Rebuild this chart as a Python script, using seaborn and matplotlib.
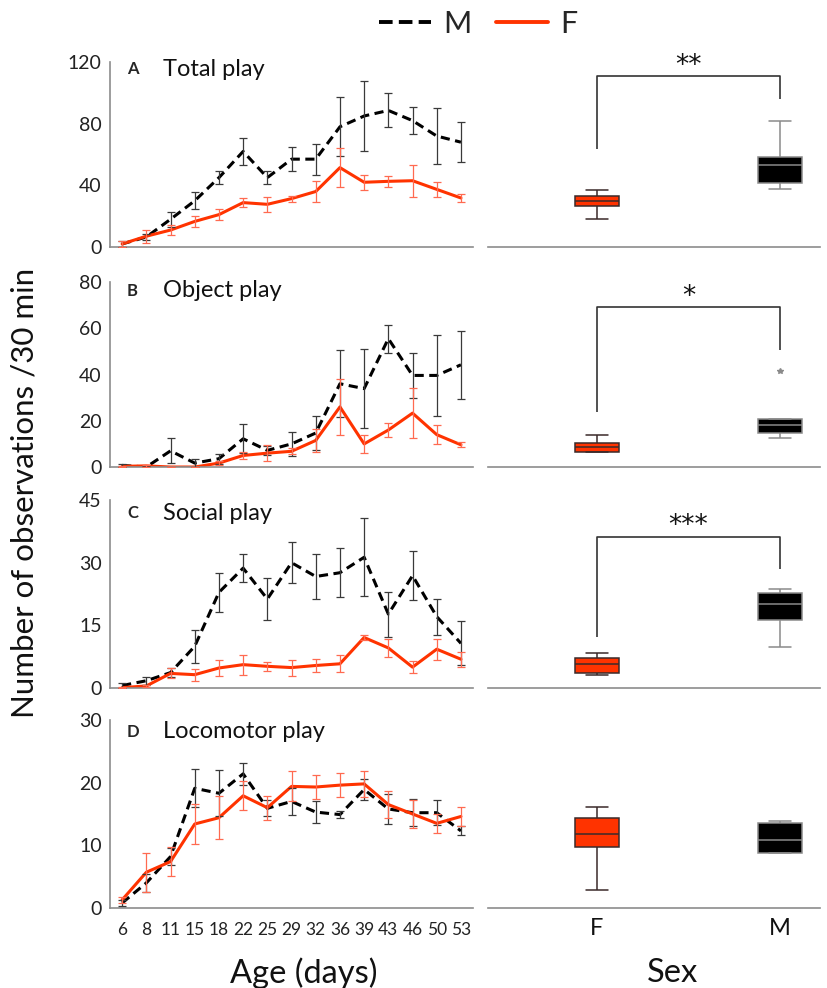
import numpy as np
import pandas as pd
import seaborn as sns
import matplotlib.pyplot as plt
from matplotlib.lines import Line2D

# ---------------- data ----------------
ages = [6, 8, 11, 15, 18, 22, 25, 29, 32, 36, 39, 43, 46, 50, 53]

total_M = [2, 6.5, 18, 30, 45, 62, 45, 57, 57, 78, 85, 88.6, 82, 72, 68]
total_M_err = [2, 2, 5, 5.5, 4, 9, 4, 8, 10, 19, 23, 11, 9, 18, 13]
total_F = [2, 7, 11, 16.6, 21, 28.8, 27.7, 31.4, 36, 51.5, 42, 42.6, 43, 37.4, 31.8]
total_F_err = [2, 4.3, 3.4, 3.5, 3.8, 3, 5, 2, 7, 12.5, 5, 3.6, 10.5, 5, 2.3]

object_M = [0.7, 0, 7, 1.7, 3.6, 12.2, 7.2, 10, 14.7, 36, 33.9, 55.5, 39.6, 39.6, 44.2]
object_M_err = [0.7, 0.3, 5.4, 1.6, 2.2, 6.3, 2, 5.3, 7.3, 14.4, 17, 6, 9.8, 17.6, 14.8]
object_F = [0.3, 0.5, 0, 0, 1.7, 5, 6, 6.8, 11.5, 26, 10, 16, 23.3, 14, 9.6]
object_F_err = [0.3, 0.5, 0, 0, 0.7, 1.5, 3.6, 1.3, 5, 12, 4, 2.9, 10.8, 4, 1.1]

social_M = [0.6, 1.75, 3.7, 10, 22.9, 28.7, 21.3, 30, 26.7, 27.6, 31.3, 17.7, 26.9, 17.1, 10.7]
social_M_err = [0.5, 1, 1, 4, 4.6, 3.3, 5, 4.9, 5.4, 5.9, 9.3, 5.4, 5.9, 4.3, 5.3]
social_F = [0.1, 0.5, 3.5, 3.2, 4.8, 5.6, 5.2, 4.9, 5.4, 5.8, 12.1, 9.6, 5, 9.3, 6.9]
social_F_err = [0.1, 0.3, 1.2, 1.4, 2, 2.4, 1.1, 1.9, 1.6, 2, 0.6, 2.2, 1.4, 2.5, 1.8]

loco_M = [0.8, 4, 8.2, 19.1, 18.3, 21.4, 15.9, 17, 15.3, 14.9, 18.9, 15.8, 15.2, 15.2, 12.3]
loco_M_err = [0.5, 1.4, 1.4, 3, 3.7, 1.8, 1.3, 2.1, 1.7, 0.6, 1.6, 2.4, 2.2, 2, 0.7]
loco_F = [1.3, 5.7, 7.4, 13.4, 14.4, 17.9, 16, 19.4, 19.3, 19.6, 19.8, 16.5, 15, 13.5, 14.6]
loco_F_err = [0.5, 3.1, 2.3, 3.2, 3.4, 2.3, 1.9, 2.4, 1.9, 1.9, 2.1, 2.2, 2.2, 1.5, 1.5]

# box plot five-number summaries: [min, q1, median, q3, max]
sexes = ["F", "M"]
box_total_F = [18.2, 26.8, 30, 33.3, 37]
box_total_M = [37.4, 41.3, 53.2, 58.2, 82]
box_object_F = [6.5, 6.5, 8.6, 10.5, 13.7]
box_object_M = [12.7, 14.7, 18, 20.9, 20.9]
object_M_outlier = [41.5]
box_social_F = [3.2, 3.6, 5.8, 7.3, 8.4]
box_social_M = [9.9, 16.2, 20.1, 22.7, 23.7]
box_loco_F = [2.8, 9.7, 11.8, 14.4, 16.1]
box_loco_M = [8.7, 8.8, 10.8, 13.6, 13.8]

# significance brackets: [F leg bottom, bracket top, M leg bottom], label
sig_total = [63.6, 111, 95.8]
sig_object = [23.8, 69, 50.7]
sig_social = [12.3, 36.2, 28.5]
sig_labels = ["**", "*", "***", None]

titles = ["Total play", "Object play", "Social play", "Locomotor play"]
letters = ["A", "B", "C", "D"]
ymax = [120, 80, 45, 30]
yticks = [[0, 40, 80, 120], [0, 20, 40, 60, 80], [0, 15, 30, 45], [0, 10, 20, 30]]

# ---------------- style ----------------
RED = "#FF3300"
SPINE = "#8c8c8c"
sns.set_theme(style="white")
plt.rcParams["font.family"] = ["Lato", "DejaVu Sans"]

fig = plt.figure(figsize=(8.28, 9.88), dpi=100)

row_bounds = [(0.7500, 0.1872), (0.5273, 0.1873), (0.3036, 0.1903), (0.0810, 0.1903)]
title_y = [0.962, 0.953, 0.93, 0.938]

line_sets = [
    (total_M, total_M_err, total_F, total_F_err),
    (object_M, object_M_err, object_F, object_F_err),
    (social_M, social_M_err, social_F, social_F_err),
    (loco_M, loco_M_err, loco_F, loco_F_err),
]
box_sets = [
    (box_total_F, box_total_M),
    (box_object_F, box_object_M),
    (box_social_F, box_social_M),
    (box_loco_F, box_loco_M),
]
sig_sets = [sig_total, sig_object, sig_social, None]

pos = np.arange(len(ages))

for i in range(4):
    bottom, h = row_bounds[i]
    m, me, f, fe = line_sets[i]

    # ---------- line panel ----------
    axL = fig.add_axes([0.1329, bottom, 0.4384, h])
    df = pd.DataFrame({
        "pos": np.concatenate([pos, pos]),
        "val": m + f,
        "sex": ["M"] * len(ages) + ["F"] * len(ages),
    })
    sns.lineplot(data=df, x="pos", y="val", hue="sex", style="sex",
                 hue_order=["M", "F"], style_order=["M", "F"],
                 palette={"M": "black", "F": RED},
                 dashes={"M": (3, 1.8), "F": ""},
                 linewidth=2.2, legend=False, ax=axL)
    axL.errorbar(pos, m, yerr=me, fmt="none", ecolor="#3a3a3a",
                 elinewidth=0.9, capsize=2.6, capthick=0.9, zorder=3)
    axL.errorbar(pos, f, yerr=fe, fmt="none", ecolor="#FF6a50",
                 elinewidth=0.9, capsize=2.6, capthick=0.9, zorder=3)
    axL.set_xlim(-0.5, len(ages) - 0.5)
    axL.set_ylim(0, ymax[i])
    axL.set_yticks(yticks[i])
    axL.set_xticks(pos)
    if i == 3:
        axL.set_xticklabels([str(a) for a in ages])
    else:
        axL.tick_params(labelbottom=False)
    axL.tick_params(axis="both", length=0, colors="#222222")
    axL.tick_params(axis="y", labelsize=14, pad=6)
    axL.tick_params(axis="x", labelsize=12.5, pad=10)
    axL.set_xlabel("")
    axL.set_ylabel("")
    for s in ["top", "right"]:
        axL.spines[s].set_visible(False)
    for s in ["left", "bottom"]:
        axL.spines[s].set_color(SPINE)
        axL.spines[s].set_linewidth(1.2)
    axL.text(0.047, title_y[i], letters[i], transform=axL.transAxes,
             fontsize=12, fontweight="bold", va="center", ha="left")
    axL.text(0.146, title_y[i], titles[i], transform=axL.transAxes,
             fontsize=17, va="center", ha="left", color="#111111")

    # ---------- box panel ----------
    axR = fig.add_axes([0.5894, bottom, 0.401, h])
    bF, bM = box_sets[i]
    dF = pd.DataFrame({"sex": ["F"] * len(bF), "val": bF})
    dM = pd.DataFrame({"sex": ["M"] * len(bM), "val": bM})
    sns.boxplot(data=dF, x="sex", y="val", order=sexes, color=RED,
                linecolor="#3a2a2a", saturation=1, whis=(0, 100),
                width=0.245, linewidth=1.1, ax=axR)
    sns.boxplot(data=dM, x="sex", y="val", order=sexes, color="black",
                linecolor="#8a8a8a", saturation=1, whis=(0, 100),
                width=0.245, linewidth=1.1, ax=axR)
    if i == 1:
        axR.plot([sexes.index("M")] * len(object_M_outlier), object_M_outlier,
                 linestyle="none", marker="*", color="#8a8a8a", markersize=4)
    sig = sig_sets[i]
    if sig is not None:
        iF, iM = sexes.index("F"), sexes.index("M")
        axR.plot([iF, iF, iM, iM], [sig[0], sig[1], sig[1], sig[2]],
                 color="#333333", linewidth=1.2, solid_capstyle="butt")
        axR.annotate(sig_labels[i], xy=((iF + iM) / 2, sig[1]),
                     xytext=(0, 7.5), textcoords="offset points",
                     ha="center", va="center", fontsize=19,
                     family=["DejaVu Sans"], color="#111111")
    axR.set_xlim(-0.596, 1.219)
    axR.set_ylim(0, ymax[i])
    axR.set_yticks([])
    axR.set_xlabel("")
    axR.set_ylabel("")
    axR.tick_params(axis="x", length=0, labelsize=17, pad=7, colors="#111111")
    if i != 3:
        axR.tick_params(labelbottom=False)
    for s in ["top", "right", "left"]:
        axR.spines[s].set_visible(False)
    axR.spines["bottom"].set_color(SPINE)
    axR.spines["bottom"].set_linewidth(1.2)

# ---------- figure texts ----------
fig.text(304 / 828, 1 - 973 / 988, "Age (days)", ha="center", va="center",
         fontsize=23.5, color="#111111")
fig.text(672 / 828, 1 - 973 / 988, "Sex", ha="center", va="center",
         fontsize=23.5, color="#111111")
fig.text(25 / 828, 1 - 493 / 988, "Number of observations /30 min",
         rotation=90, ha="center", va="center", fontsize=22.5, color="#111111")

handles = [
    Line2D([], [], color="black", linewidth=2.8, dashes=(3.5, 1.6)),
    Line2D([], [], color=RED, linewidth=2.8),
]
fig.legend(handles, ["M", "F"], loc="center",
           bbox_to_anchor=(478 / 828, 1 - 24 / 988), ncol=2, frameon=False,
           fontsize=22, handlelength=1.7, handletextpad=0.4,
           columnspacing=0.8)

fig.savefig("out.png", dpi=100)
